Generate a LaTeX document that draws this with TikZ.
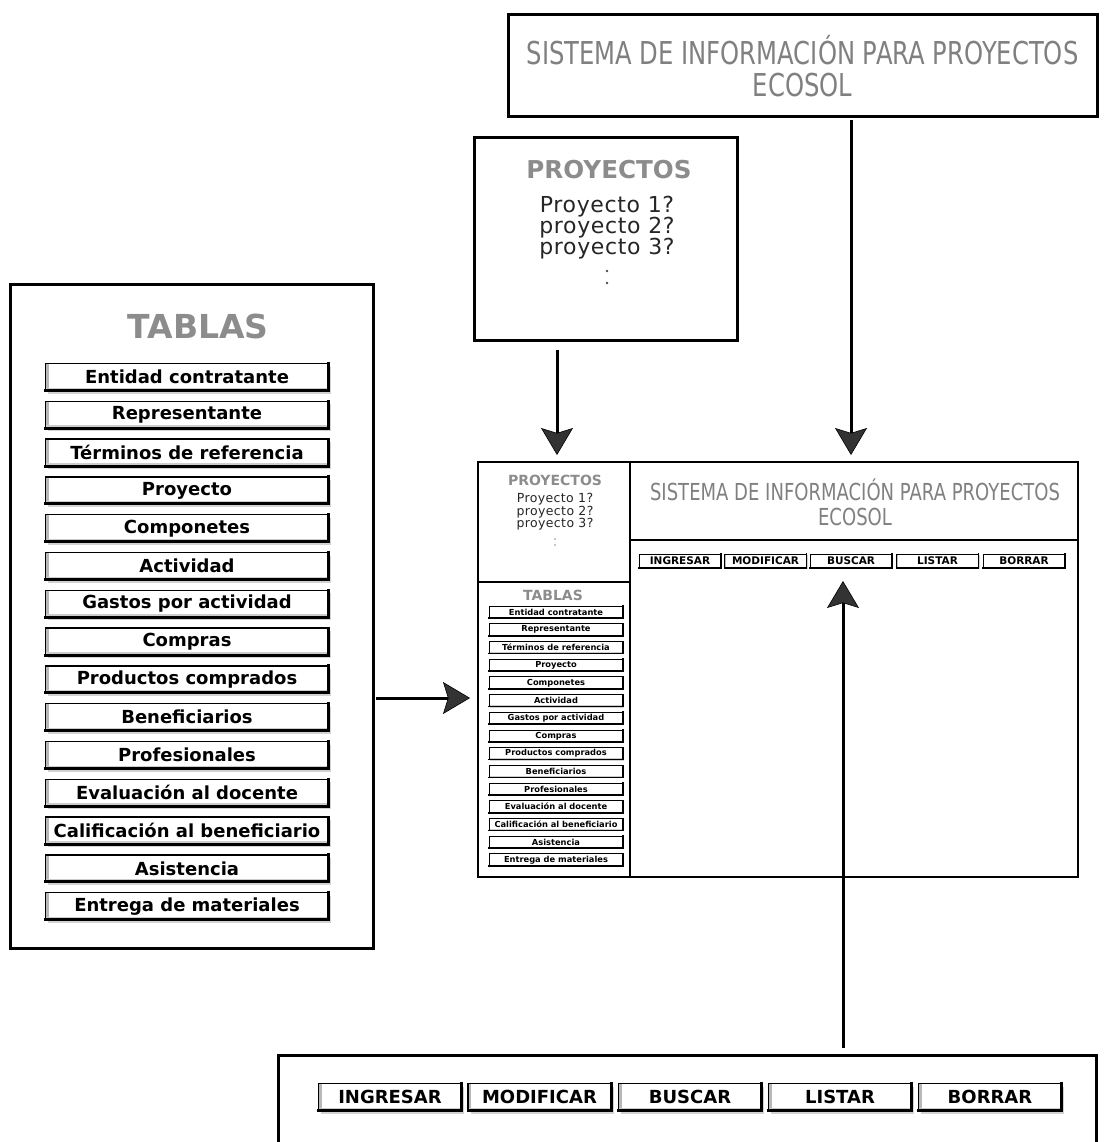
\documentclass[tikz,border=0pt]{standalone}
\usepackage{fontspec}
\setmainfont{DejaVu Sans}
\newfontfamily\narrowfont[FakeStretch=0.77]{DejaVu Sans}
\newfontfamily\spacedfont[LetterSpace=3]{DejaVu Sans}
\usetikzlibrary{arrows.meta,shadows}
\definecolor{titlegray}{gray}{0.55}
\definecolor{sysgray}{gray}{0.5}
\newcommand\btnedge[2]{\draw[line width=#2, line cap=rect] (#1.south west) -- (#1.south east) -- (#1.north east);}
\tikzset{
  frame/.style={draw=black, line width=3pt, fill=white, inner sep=0pt, outer sep=0pt, anchor=north west},
  ttl/.style={text=titlegray, inner sep=0pt},
  bevel/.style={path picture={
      \fill[black!28] (path picture bounding box.south west) rectangle ([xshift=#1]path picture bounding box.north west);
      \fill[black!20] (path picture bounding box.south west) rectangle ([yshift=#1]path picture bounding box.south east);}},
  btn/.style={draw=black, line width=1.4pt, fill=white, inner sep=0pt, outer sep=0pt,
      font=\bfseries\fontsize{18}{18}\selectfont, minimum width=283pt, minimum height=27pt,
      bevel=3pt, drop shadow={shadow xshift=2.5pt, shadow yshift=-3pt, opacity=0.35}},
  bbtn/.style={draw=black, line width=1.4pt, fill=white, inner sep=0pt, outer sep=0pt,
      font=\bfseries\fontsize{18}{18}\selectfont, minimum width=143pt, minimum height=27pt,
      bevel=3pt, drop shadow={shadow xshift=2.5pt, shadow yshift=-3pt, opacity=0.35}},
  sbtn/.style={draw=black, line width=0.8pt, fill=white, inner sep=0pt, outer sep=0pt,
      font=\bfseries\fontsize{8.3}{8.3}\selectfont, minimum width=134pt, minimum height=12pt,
      bevel=1.2pt, drop shadow={shadow xshift=1pt, shadow yshift=-1pt, opacity=0.35}},
  mbtn/.style={draw=black, line width=0.8pt, fill=white, inner sep=0pt, outer sep=0pt,
      font=\bfseries\fontsize{10.5}{10.5}\selectfont, minimum width=82pt, minimum height=14pt,
      bevel=1.2pt, drop shadow={shadow xshift=1pt, shadow yshift=-1.2pt, opacity=0.35}},
  arr/.style={draw=black, line width=3pt,
      -{Stealth[length=27pt, width=32pt, inset=5pt, line width=0.6pt, fill=black!80]}},
}
\begin{document}
\begin{tikzpicture}[x=1pt,y=-1pt]
\useasboundingbox[fill=white] (0,0) rectangle (1107,1142);

% ---------- top box ----------
\node[frame, minimum width=589pt, minimum height=102pt, align=center, text=sysgray,
      font=\narrowfont\fontsize{31.5}{32}\selectfont] (sys) at (508,15)
      {SISTEMA DE INFORMACIÓN PARA PROYECTOS\\ECOSOL};

% ---------- proyectos box ----------
\node[frame, minimum width=263pt, minimum height=202pt] (proy) at (474,138) {};
\node[ttl, font=\bfseries\fontsize{24.6}{25}\selectfont] (proyT) at (609,170) {PROYECTOS};
\node[align=center, text=black!85, inner sep=0pt, font=\spacedfont\fontsize{22}{21}\selectfont] (proyL) at (607,228)
      {Proyecto 1?\\proyecto 2?\\proyecto 3?};
\fill[black!70] (607,271) circle (1.3pt) (607,283) circle (1.3pt);

% ---------- tablas box ----------
\node[frame, minimum width=363pt, minimum height=664pt] (tab) at (10,284) {};
\node[ttl, font=\bfseries\fontsize{33}{33}\selectfont] (tabT) at (198,326) {TABLAS};
\foreach \t [count=\i from 0] in {Entidad contratante,Representante,Términos de referencia,Proyecto,Componetes,Actividad,Gastos por actividad,Compras,Productos comprados,Beneficiarios,Profesionales,Evaluación al docente,Calificación al beneficiario,Asistencia,Entrega de materiales}{
  \node[btn] (tb\i) at (187,{377+37.8*\i}) {\t};
  \btnedge{tb\i}{3pt}
}

% ---------- window ----------
\node[frame, line width=2.5pt, minimum width=600pt, minimum height=415pt] (win) at (478,462) {};
\draw[line width=2.5pt] (630,462) -- (630,877);
\draw[line width=2.5pt] (478,582) -- (630,582);
\draw[line width=2.5pt] (630,540) -- (1078,540);

\node[ttl, font=\bfseries\fontsize{14}{14}\selectfont] (wproyT) at (555,480) {PROYECTOS};
\node[align=center, text=black!85, inner sep=0pt, font=\spacedfont\fontsize{12.5}{12.5}\selectfont] (wproyL) at (555,512)
      {Proyecto 1?\\proyecto 2?\\proyecto 3?};
\fill[black!45] (555,539) circle (0.8pt) (555,545) circle (0.8pt);

\node[align=center, text=sysgray, inner sep=0pt, font=\narrowfont\fontsize{23.4}{25}\selectfont] (wsys) at (855,502)
      {SISTEMA DE INFORMACIÓN PARA PROYECTOS\\ECOSOL};

\foreach \t/\x [count=\i] in {INGRESAR/680,MODIFICAR/765.5,BUSCAR/851,LISTAR/937.5,BORRAR/1024}{
  \node[mbtn] (ib\i) at (\x,561) {\t};
  \btnedge{ib\i}{1.8pt}
}

\node[ttl, font=\bfseries\fontsize{14}{14}\selectfont] (wtabT) at (553,595) {TABLAS};
\foreach \t [count=\i from 0] in {Entidad contratante,Representante,Términos de referencia,Proyecto,Componetes,Actividad,Gastos por actividad,Compras,Productos comprados,Beneficiarios,Profesionales,Evaluación al docente,Calificación al beneficiario,Asistencia,Entrega de materiales}{
  \node[sbtn] (st\i) at (556,{612+17.7*\i}) {\t};
  \btnedge{st\i}{1.6pt}
}

% ---------- bottom box ----------
\node[frame, minimum width=818pt, minimum height=110pt] (bot) at (278,1055) {};
\foreach \t/\x [count=\i] in {INGRESAR/390,MODIFICAR/539.5,BUSCAR/690,LISTAR/840,BORRAR/990}{
  \node[bbtn] (bb\i) at (\x,1097) {\t};
  \btnedge{bb\i}{3pt}
}

% ---------- connectors ----------
\coordinate (ax) at (557,400);
\coordinate (bx) at (851,300);
\coordinate (cy) at (420,698);
\coordinate (dx) at (843,800);
\draw[arr, shorten <=10pt, shorten >=7pt] (proy.south -| ax) -- (win.north -| ax);
\draw[arr, shorten <=3pt, shorten >=7pt] (sys.south -| bx) -- (win.north -| bx);
\draw[arr, shorten <=3pt, shorten >=8pt] (tab.east |- cy) -- (win.west |- cy);
\draw[arr, shorten <=7pt, shorten >=13pt] (bot.north -| dx) -- (ib3.south -| dx);
\end{tikzpicture}
\end{document}
